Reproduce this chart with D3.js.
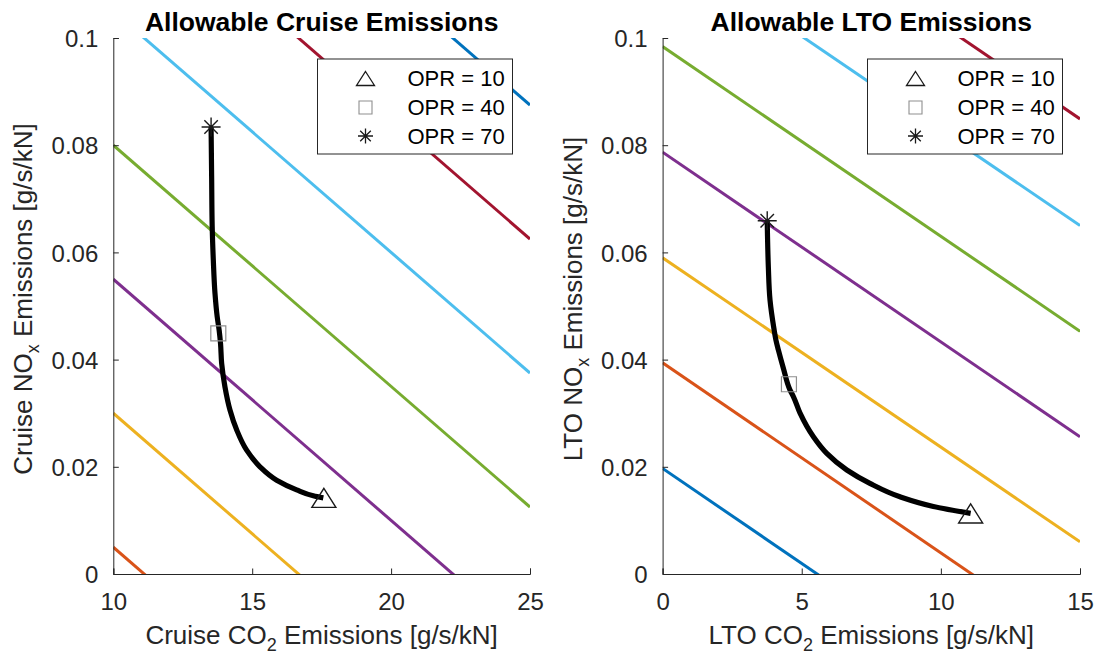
<!DOCTYPE html>
<html>
<head>
<meta charset="utf-8">
<script src="https://cdn.jsdelivr.net/npm/d3@7"></script>
<style>
  html, body { margin: 0; padding: 0; background: #fff; }
  svg { display: block; font-family: "Liberation Sans", Arial, sans-serif; }
</style>
</head>
<body>
<svg id="chart" width="1097" height="655"></svg>
<script>
// ---- Data -------------------------------------------------------------
// Line colours (default axes colour order)
const lineColors = ["#0072BD", "#D95319", "#EDB120", "#7E2F8E", "#77AC30", "#4DBEEE", "#A2142F"];

// Cruise panel: constant-level lines, NOx value at CO2 = 10 and at CO2 = 25
const cruiseLineStart = [-0.020, 0.005, 0.030, 0.055, 0.080, 0.105, 0.130, 0.155];
const cruiseLineEnd   = [-0.0875, -0.0625, -0.0375, -0.0125, 0.0125, 0.0375, 0.0625, 0.0875];

// LTO panel: constant-level lines, NOx value at CO2 = 0 and at CO2 = 15
const ltoLineStart = [0.0197, 0.0394, 0.0590, 0.0787, 0.0984, 0.1180, 0.1380];
const ltoLineEnd   = [-0.0335, -0.0138, 0.0060, 0.0256, 0.0453, 0.0650, 0.0849];

// Engine trade curve, OPR 10 -> 70
const cruiseCO2 = [17.56, 17.20, 16.60, 15.88, 15.28, 14.80, 14.44, 14.20, 14.02, 13.90, 13.86, 13.81, 13.74, 13.66, 13.60, 13.56, 13.54, 13.52];
const cruiseNOx = [0.0142, 0.0146, 0.0157, 0.0175, 0.0200, 0.0231, 0.0269, 0.0306, 0.0349, 0.0393, 0.0430, 0.0455, 0.0480, 0.0524, 0.0586, 0.0648, 0.0741, 0.0834];
const ltoCO2 = [11.07, 9.73, 8.53, 7.45, 6.62, 5.90, 5.42, 4.94, 4.70, 4.58, 4.34, 4.16, 4.07, 4.00, 3.86, 3.80, 3.77, 3.76];
const ltoNOx = [0.0113, 0.0126, 0.0144, 0.0169, 0.0194, 0.0225, 0.0256, 0.0300, 0.0331, 0.0343, 0.0384, 0.0418, 0.0437, 0.0458, 0.0511, 0.0573, 0.0630, 0.0659];

// Highlighted design points
const oprLabels = ["OPR = 10", "OPR = 40", "OPR = 70"];
const oprSymbols = ["triangle", "square", "star"];
const cruiseOprCO2 = [17.58, 13.78, 13.52];
const cruiseOprNOx = [0.0142, 0.0449, 0.0834];
const ltoOprCO2 = [11.07, 4.54, 3.76];
const ltoOprNOx = [0.0113, 0.0354, 0.0659];

// Axis ticks
const cruiseXTicks = [10, 15, 20, 25];
const ltoXTicks = [0, 5, 10, 15];
const yTicks = [0, 0.02, 0.04, 0.06, 0.08, 0.1];

// ---- Drawing ----------------------------------------------------------
const svg = d3.select("#chart");
const axisColor = "#262626";

function markerPath(type, big) {
  if (type === "triangle") {
    const w = big ? 24 : 18, h = big ? 19 : 14;
    return `M0,${-h / 2}L${w / 2},${h / 2}L${-w / 2},${h / 2}Z`;
  }
  if (type === "square") {
    const s = big ? 15 : 13;
    return `M${-s / 2},${-s / 2}h${s}v${s}h${-s}Z`;
  }
  const r = big ? 9.5 : 7.5, d = r * 0.7071;
  return `M${-r},0H${r}M0,${-r}V${r}M${-d},${-d}L${d},${d}M${-d},${d}L${d},${-d}`;
}
function markerStroke(type) {
  return type === "square" ? "#8f8f8f" : "#1a1a1a";
}

function drawPanel(cfg) {
  const x = d3.scaleLinear().domain(cfg.xDomain).range([cfg.left, cfg.right]);
  const y = d3.scaleLinear().domain([0, 0.1]).range([574, 38]);
  const g = svg.append("g");

  const clipId = "clip-" + cfg.id;
  svg.append("defs").append("clipPath").attr("id", clipId)
    .append("rect")
    .attr("x", cfg.left).attr("y", 38)
    .attr("width", cfg.right - cfg.left).attr("height", 574 - 38);

  const plot = g.append("g").attr("clip-path", `url(#${clipId})`);

  // constant-level lines
  cfg.lineStart.forEach((v0, i) => {
    plot.append("line")
      .attr("x1", x(cfg.xDomain[0])).attr("y1", y(v0))
      .attr("x2", x(cfg.xDomain[1])).attr("y2", y(cfg.lineEnd[i]))
      .attr("stroke", lineColors[i % lineColors.length])
      .attr("stroke-width", 3);
  });

  // trade curve
  const pts = cfg.curveX.map((v, i) => [v, cfg.curveY[i]]);
  plot.append("path")
    .attr("d", d3.line().x(d => x(d[0])).y(d => y(d[1])).curve(d3.curveMonotoneY)(pts))
    .attr("fill", "none").attr("stroke", "#000")
    .attr("stroke-width", 5.2).attr("stroke-linejoin", "round");

  // design point markers
  cfg.oprX.forEach((v, i) => {
    g.append("path")
      .attr("transform", `translate(${x(v)},${y(cfg.oprY[i])})`)
      .attr("d", markerPath(oprSymbols[i], true))
      .attr("fill", "none")
      .attr("stroke", markerStroke(oprSymbols[i]))
      .attr("stroke-width", oprSymbols[i] === "square" ? 1.2 : 1.4);
  });

  // axes (left and bottom only)
  const xAxis = g.append("g").attr("transform", "translate(0,574)")
    .call(d3.axisBottom(x).tickValues(cfg.xTicks).tickSize(-5.5).tickPadding(0).tickFormat(d3.format("d")));
  const yAxis = g.append("g").attr("transform", `translate(${cfg.left},0)`)
    .call(d3.axisLeft(y).tickValues(yTicks).tickSize(-5.5).tickPadding(0).tickFormat(d => d === 0 ? "0" : String(+d.toFixed(2))));
  [xAxis, yAxis].forEach(a => {
    a.select(".domain").attr("stroke", axisColor).attr("stroke-width", 1);
    a.selectAll(".tick line").attr("stroke", axisColor).attr("stroke-width", 1);
    a.selectAll(".tick text").attr("fill", axisColor).attr("font-size", 24)
      .attr("font-family", "'Liberation Sans', Arial, sans-serif");
  });
  xAxis.selectAll(".tick text").attr("y", 36).attr("dy", null);
  yAxis.selectAll(".tick text").attr("x", -15).attr("dy", "0.36em");

  // title
  g.append("text")
    .attr("x", (cfg.left + cfg.right) / 2).attr("y", 31)
    .attr("text-anchor", "middle").attr("font-weight", "bold")
    .attr("font-size", 26.5).attr("fill", "#000")
    .text(cfg.title);

  // x label with subscript
  const xl = g.append("text")
    .attr("x", (cfg.left + cfg.right) / 2).attr("y", 644)
    .attr("text-anchor", "middle").attr("font-size", 26).attr("fill", axisColor);
  xl.append("tspan").text(cfg.prefix + " CO");
  xl.append("tspan").attr("font-size", 18).attr("dy", 7).text("2");
  xl.append("tspan").attr("dy", -7).text(" Emissions [g/s/kN]");

  // y label with subscript
  const yl = g.append("text")
    .attr("transform", `translate(${cfg.left - 81},299) rotate(-90)`)
    .attr("text-anchor", "middle").attr("font-size", 26).attr("fill", axisColor);
  yl.append("tspan").text(cfg.prefix + " NO");
  yl.append("tspan").attr("font-size", 18).attr("dy", 7).text("x");
  yl.append("tspan").attr("dy", -7).text(" Emissions [g/s/kN]");

  // legend
  const lx = cfg.right - 17.5 - 195, ly = 59;
  const lg = g.append("g");
  lg.append("rect").attr("x", lx).attr("y", ly).attr("width", 195).attr("height", 95)
    .attr("fill", "#fff").attr("stroke", axisColor).attr("stroke-width", 1);
  const rowY = [78.5, 107.5, 136];
  oprLabels.forEach((lab, i) => {
    lg.append("path")
      .attr("transform", `translate(${lx + 48},${rowY[i]})`)
      .attr("d", markerPath(oprSymbols[i], false))
      .attr("fill", "none")
      .attr("stroke", markerStroke(oprSymbols[i]))
      .attr("stroke-width", oprSymbols[i] === "square" ? 1.1 : 1.3);
    lg.append("text")
      .attr("x", lx + 90).attr("y", rowY[i]).attr("dy", "0.36em")
      .attr("font-size", 22).attr("fill", "#000").text(lab);
  });
}

drawPanel({
  id: "cruise", prefix: "Cruise", title: "Allowable Cruise Emissions",
  xDomain: [10, 25], left: 113.3, right: 530, xTicks: cruiseXTicks,
  lineStart: cruiseLineStart, lineEnd: cruiseLineEnd,
  curveX: cruiseCO2, curveY: cruiseNOx, oprX: cruiseOprCO2, oprY: cruiseOprNOx
});
drawPanel({
  id: "lto", prefix: "LTO", title: "Allowable LTO Emissions",
  xDomain: [0, 15], left: 662.6, right: 1080, xTicks: ltoXTicks,
  lineStart: ltoLineStart, lineEnd: ltoLineEnd,
  curveX: ltoCO2, curveY: ltoNOx, oprX: ltoOprCO2, oprY: ltoOprNOx
});
</script>
</body>
</html>
